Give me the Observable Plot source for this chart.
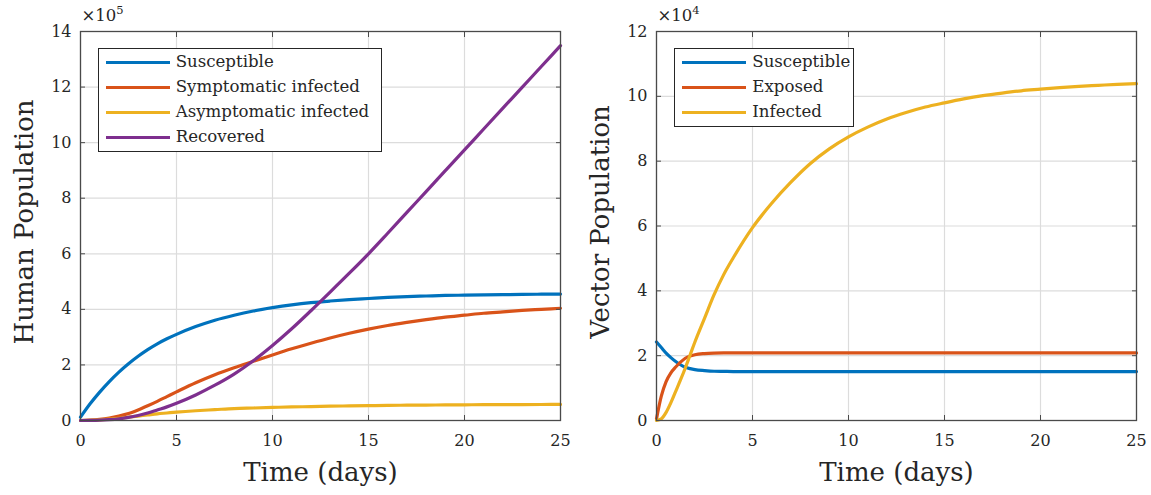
<!DOCTYPE html>
<html><head><meta charset="utf-8">
<script src="https://cdn.jsdelivr.net/npm/d3@7"></script>
<script src="https://cdn.jsdelivr.net/npm/@observablehq/plot@0.6"></script>
<style>
body{margin:0;background:#fff;}
#wrap{position:relative;width:1151px;height:495px;display:flex;font-family:"DejaVu Serif",serif;color:#262626;}
.panel{position:relative;}
.legend{position:absolute;background:#fff;border:1px solid #262626;box-sizing:border-box;padding-top:1px;}
.row{display:flex;align-items:center;height:24.8px;}
.swatch{width:64px;height:3px;margin-left:7px;margin-right:6px;flex:none;}
.lab{font-size:16.6px;white-space:nowrap;line-height:1;}
.exp{position:absolute;font-size:16.5px;line-height:16px;white-space:nowrap;}
.exp span{position:relative;top:-7px;font-size:11.5px;}
</style></head><body><div id="wrap"></div>
<script>
// ---- data ----
const humanTime = [0,0.5,1,1.5,2,2.5,3,3.5,4,4.5,5,6,7,8,9,10,11,12,13,14,15,16,17,18,19,20,21,22,23,24,25];
const humanSusceptible = [0.12,0.6,1.02,1.4,1.74,2.04,2.31,2.55,2.76,2.94,3.1,3.38,3.61,3.79,3.94,4.06,4.16,4.24,4.3,4.35,4.39,4.43,4.46,4.48,4.5,4.51,4.52,4.53,4.54,4.545,4.55];
const humanSymptomatic = [0,0.01,0.04,0.09,0.16,0.25,0.38,0.53,0.69,0.86,1.03,1.36,1.65,1.9,2.13,2.36,2.58,2.78,2.97,3.14,3.29,3.42,3.53,3.63,3.72,3.79,3.86,3.91,3.96,4.0,4.04];
const humanAsymptomatic = [0,0.005,0.02,0.05,0.08,0.12,0.16,0.2,0.24,0.27,0.3,0.35,0.39,0.43,0.45,0.47,0.49,0.5,0.515,0.525,0.535,0.545,0.55,0.555,0.56,0.565,0.57,0.572,0.574,0.576,0.578];
const humanRecovered = [0,0.002,0.01,0.03,0.06,0.11,0.18,0.27,0.38,0.49,0.62,0.92,1.27,1.67,2.15,2.7,3.3,3.95,4.62,5.3,6.0,6.74,7.49,8.24,8.99,9.74,10.49,11.24,11.99,12.74,13.49];
const humanNames = ["Susceptible","Symptomatic infected","Asymptomatic infected","Recovered"];

const vectorTime = [0,0.25,0.5,0.75,1,1.25,1.5,1.75,2,2.5,3,3.5,4,5,6,7,8,9,10,11,12,13,14,15,16,17,18,19,20,21,22,23,24,25];
const vectorSusceptible = [2.42,2.25,2.08,1.94,1.82,1.72,1.64,1.6,1.57,1.54,1.52,1.515,1.51,1.51,1.51,1.51,1.51,1.51,1.51,1.51,1.51,1.51,1.51,1.51,1.51,1.51,1.51,1.51,1.51,1.51,1.51,1.51,1.51,1.51];
const vectorExposed = [0.05,0.75,1.2,1.47,1.65,1.8,1.92,1.99,2.03,2.065,2.08,2.085,2.085,2.085,2.085,2.085,2.085,2.085,2.085,2.085,2.085,2.085,2.085,2.085,2.085,2.085,2.085,2.085,2.085,2.085,2.085,2.085,2.085,2.085];
const vectorInfected = [0,0.05,0.25,0.55,0.9,1.25,1.62,2.02,2.42,3.15,3.88,4.5,5.02,5.95,6.7,7.35,7.92,8.38,8.75,9.05,9.3,9.5,9.67,9.8,9.92,10.02,10.1,10.17,10.22,10.27,10.31,10.34,10.37,10.39];
const vectorNames = ["Susceptible","Exposed","Infected"];

const xTicks = [0,5,10,15,20,25];
const humanYTicks = [0,2,4,6,8,10,12,14];
const vectorYTicks = [0,2,4,6,8,10,12];

// ---- styles ----
const palette = ["#0072BD","#D95319","#EDB120","#7E2F8E"];
const FRAME = "#4a4a4a";

function makePanel({time, series, names, yTicks, yMax, yLabel, exponent, width, marginLeft, legendLeft, legendWidth}) {
  const lineMarks = series.map((vals, i) => Plot.line(time.map((t, j) => ({t, v: vals[j]})), {
    x: "t", y: "v", stroke: palette[i], strokeWidth: 3.2, curve: "monotone-x"
  }));
  const chart = Plot.plot({
    width, height: 495,
    marginLeft, marginRight: 15, marginTop: 31, marginBottom: 75,
    style: {fontFamily: "DejaVu Serif", fontSize: "16px", color: "#262626", background: "transparent", overflow: "visible"},
    x: {domain: [0, 25]},
    y: {domain: [0, yMax]},
    marks: [
      Plot.gridX(xTicks, {stroke: "#dcdcdc", strokeOpacity: 1, strokeWidth: 1.2}),
      Plot.gridY(yTicks, {stroke: "#dcdcdc", strokeOpacity: 1, strokeWidth: 1.2}),
      ...lineMarks,
      Plot.frame({stroke: FRAME, strokeWidth: 1.3}),
      Plot.axisX(xTicks, {anchor: "bottom", tickSize: 0, tickPadding: 14, label: null, fontSize: 16}),
      Plot.axisY(yTicks, {anchor: "left", tickSize: 0, tickPadding: 9, label: null, fontSize: 16}),
      Plot.axisX(xTicks, {anchor: "bottom", tickSize: 5, dy: -5, tickFormat: () => "", label: null, stroke: FRAME}),
      Plot.axisX(xTicks, {anchor: "top", tickSize: 5, dy: 5, tickFormat: () => "", label: null, stroke: FRAME}),
      Plot.axisY(yTicks, {anchor: "left", tickSize: 5, dx: 5, tickFormat: () => "", label: null, stroke: FRAME}),
      Plot.axisY(yTicks, {anchor: "right", tickSize: 5, dx: -5, tickFormat: () => "", label: null, stroke: FRAME}),
      Plot.text(["Time (days)"], {text: d => d, frameAnchor: "bottom", textAnchor: "middle", lineAnchor: "middle", dy: 52.4, fontSize: 26, fill: "#262626"}),
      Plot.text([yLabel], {text: d => d, frameAnchor: "left", textAnchor: "middle", lineAnchor: "middle", rotate: -90, dx: -56, dy: -4, fontSize: 26, fill: "#262626"})
    ]
  });
  const div = document.createElement("div");
  div.className = "panel";
  div.style.width = width + "px";
  div.appendChild(chart);
  const ex = document.createElement("div");
  ex.className = "exp";
  ex.style.left = (marginLeft + 1.5) + "px";
  ex.style.top = "8px";
  ex.innerHTML = "×10<span>" + exponent + "</span>";
  div.appendChild(ex);
  const lg = document.createElement("div");
  lg.className = "legend";
  lg.style.left = legendLeft + "px";
  lg.style.top = "48.3px";
  lg.style.width = legendWidth + "px";
  names.forEach((n, i) => {
    const r = document.createElement("div");
    r.className = "row";
    r.innerHTML = `<div class="swatch" style="background:${palette[i]}"></div><div class="lab">${n}</div>`;
    lg.appendChild(r);
  });
  lg.style.height = (names.length * 24.8 + 4.5) + "px";
  div.appendChild(lg);
  return div;
}

const wrap = document.getElementById("wrap");
wrap.appendChild(makePanel({
  time: humanTime,
  series: [humanSusceptible, humanSymptomatic, humanAsymptomatic, humanRecovered],
  names: humanNames, yTicks: humanYTicks, yMax: 14, yLabel: "Human Population", exponent: "5",
  width: 575, marginLeft: 80, legendLeft: 97.7, legendWidth: 284.3
}));
wrap.appendChild(makePanel({
  time: vectorTime,
  series: [vectorSusceptible, vectorExposed, vectorInfected],
  names: vectorNames, yTicks: vectorYTicks, yMax: 12, yLabel: "Vector Population", exponent: "4",
  width: 576, marginLeft: 81, legendLeft: 99.3, legendWidth: 180
}));
</script></body></html>
